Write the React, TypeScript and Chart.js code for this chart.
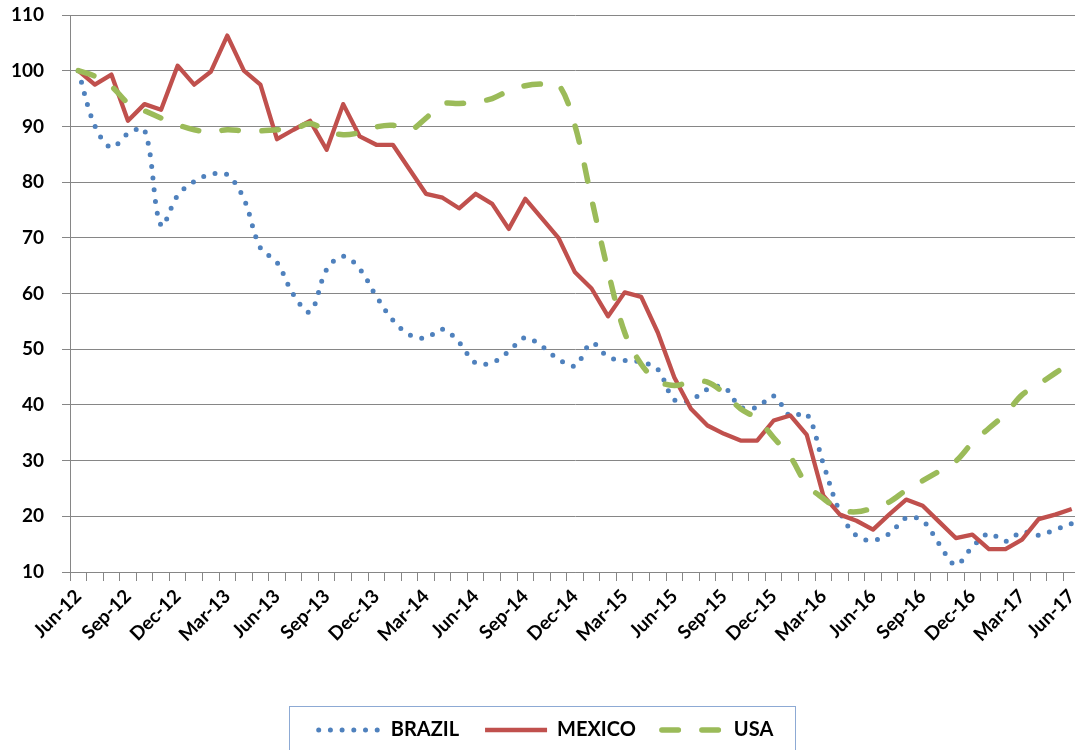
import React, { useEffect, useRef } from "react";
import { Chart, registerables } from "chart.js";

Chart.register(...registerables);

const MONTHS = [
  "Jun-12","Jul-12","Aug-12","Sep-12","Oct-12","Nov-12","Dec-12",
  "Jan-13","Feb-13","Mar-13","Apr-13","May-13","Jun-13","Jul-13","Aug-13","Sep-13","Oct-13","Nov-13","Dec-13",
  "Jan-14","Feb-14","Mar-14","Apr-14","May-14","Jun-14","Jul-14","Aug-14","Sep-14","Oct-14","Nov-14","Dec-14",
  "Jan-15","Feb-15","Mar-15","Apr-15","May-15","Jun-15","Jul-15","Aug-15","Sep-15","Oct-15","Nov-15","Dec-15",
  "Jan-16","Feb-16","Mar-16","Apr-16","May-16","Jun-16","Jul-16","Aug-16","Sep-16","Oct-16","Nov-16","Dec-16",
  "Jan-17","Feb-17","Mar-17","Apr-17","May-17","Jun-17",
];

const BRAZIL = [
  100, 90.1, 86.2, 88.7, 89.4, 72.2, 77.6, 80.1, 81.4, 81.3, 77.0, 68.2, 65.6, 59.8, 56.7, 64.3,
  66.7, 64.4, 59.5, 55.2, 52.6, 52.0, 53.6, 51.2, 47.5, 47.6, 49.6, 52.1, 50.5, 48.2, 47.0, 51.1,
  48.6, 48.0, 47.7, 46.4, 40.9, 40.9, 42.8, 43.2, 39.6, 39.6, 41.6, 38.0, 38.4, 29.4, 20.8, 16.5,
  15.7, 16.9, 19.7, 19.2, 15.0, 11.3, 14.5, 16.9, 15.5, 17.2, 16.6, 17.6, 18.7,
];

const MEXICO = [
  100, 97.5, 99.3, 91.0, 94.0, 93.0, 100.9, 97.5, 99.8, 106.3, 100, 97.5, 87.7, 89.4, 91.0, 85.8,
  94.0, 88.2, 86.7, 86.7, 82.3, 77.9, 77.2, 75.3, 77.9, 76.1, 71.6, 77.0, 73.5, 70.0, 63.8, 60.9,
  55.9, 60.2, 59.4, 53.0, 44.9, 39.3, 36.3, 34.8, 33.6, 33.6, 37.2, 38.1, 34.6, 23.7, 20.3, 19.2,
  17.6, 20.4, 23.0, 21.9, 19.0, 16.1, 16.7, 14.1, 14.1, 15.8, 19.5, 20.3, 21.3,
];

const USA = [
  100, 99.0, 97.2, 94.2, 92.8, 91.5, 90.3, 89.4, 89.0, 89.4, 89.2, 89.2, 89.4, 89.5, 90.5, 89.2,
  88.5, 88.9, 89.9, 90.2, 89.3, 91.5, 94.0, 94.1, 94.4, 95.0, 96.4, 97.3, 97.6, 97.5, 90.1, 77.0,
  64.0, 53.0, 47.3, 44.3, 43.5, 44.1, 44.1, 42.1, 39.3, 37.5, 34.1, 30.7, 25.7, 23.2, 21.2, 20.8,
  21.5, 22.6, 24.7, 26.4, 28.1, 29.9, 33.2, 35.8, 38.4, 41.8, 43.7, 45.7, 47.7,
];

const SERIES_NAMES = ["BRAZIL", "MEXICO", "USA"];
const SERIES_COLORS = ["#4F81BD", "#C0504D", "#9BBB59"];
const Y_MIN = 10;
const Y_MAX = 110;
const Y_STEP = 10;
const LABEL_EVERY = 3;

const FONT = "Lato";
const GRID = "#868686";

const legendShift = {
  id: "legendShift",
  afterLayout(chart: any) {
    const lg = chart.legend;
    if (!lg) return;
    lg.left += 6;
    lg.right += 6;
  },
};

const legendBorder = {
  id: "legendBorder",
  afterDraw(chart: any) {
    const lg = chart.legend;
    if (!lg || !lg.legendHitBoxes || !lg.legendHitBoxes.length) return;
    const hb = lg.legendHitBoxes;
    const l = Math.min(...hb.map((h: any) => h.left)) - 30;
    const r = Math.max(...hb.map((h: any) => h.left + h.width)) + 21;
    const t = hb[0].top - 14;
    const ctx = chart.ctx;
    ctx.save();
    ctx.strokeStyle = "#8DAAD4";
    ctx.lineWidth = 1;
    ctx.setLineDash([]);
    ctx.strokeRect(Math.round(l) + 0.5, Math.round(t) + 0.5, Math.round(r - l), 200);
    ctx.restore();
  },
};

export default function App() {
  const ref = useRef<HTMLCanvasElement | null>(null);

  useEffect(() => {
    if (!ref.current) return;
    const chart = new Chart(ref.current, {
      type: "line",
      data: {
        labels: MONTHS,
        datasets: [
          {
            label: SERIES_NAMES[0],
            data: BRAZIL,
            borderColor: SERIES_COLORS[0],
            backgroundColor: SERIES_COLORS[0],
            borderWidth: 5,
            borderDash: [0, 11.7],
            borderCapStyle: "round",
            tension: 0.35,
            pointRadius: 0,
            order: 3,
          },
          {
            label: SERIES_NAMES[1],
            data: MEXICO,
            borderColor: SERIES_COLORS[1],
            backgroundColor: SERIES_COLORS[1],
            borderWidth: 4.3,
            borderJoinStyle: "round",
            tension: 0,
            pointRadius: 0,
            order: 2,
          },
          {
            label: SERIES_NAMES[2],
            data: USA,
            borderColor: SERIES_COLORS[2],
            backgroundColor: SERIES_COLORS[2],
            borderWidth: 5.5,
            borderDash: [16.5, 23.5],
            borderCapStyle: "round",
            tension: 0.35,
            pointRadius: 0,
            order: 1,
          },
        ],
      },
      options: {
        responsive: false,
        animation: false,
        layout: { padding: { top: 15, left: 0, right: 0, bottom: 0 } },
        plugins: {
          tooltip: { enabled: false },
          legend: {
            position: "bottom",
            labels: {
              usePointStyle: true,
              pointStyle: "line",
              pointStyleWidth: 62,
              padding: 26,
              color: "#000",
              font: { family: FONT, size: 20, weight: "bold" },
              sort: (a: any, b: any) => a.datasetIndex - b.datasetIndex,
              generateLabels: (chart: any) => {
                const items = (Chart as any).defaults.plugins.legend.labels.generateLabels(chart);
                return items.map((it: any) => {
                  const ds = chart.data.datasets[it.datasetIndex];
                  return {
                    ...it,
                    lineDash: ds.borderDash || [],
                    lineCap: ds.borderCapStyle || "butt",
                    lineWidth: ds.borderWidth,
                    strokeStyle: ds.borderColor,
                    fillStyle: ds.borderColor,
                    pointStyle: "line",
                  };
                });
              },
            },
          },
        },
        scales: {
          x: {
            offset: true,
            grid: {
              display: true,
              drawOnChartArea: false,
              drawTicks: true,
              tickLength: 9,
              offset: true,
              color: GRID,
            },
            border: { display: true, color: GRID, width: 1 },
            ticks: {
              autoSkip: false,
              minRotation: 45,
              maxRotation: 45,
              padding: 4,
              color: "#000",
              font: { family: FONT, size: 19, weight: "bold" },
              callback: function (this: any, val: any, index: number) {
                return index % LABEL_EVERY === 0 ? MONTHS[index] : "";
              },
            },
            afterFit: (s: any) => {
              s.height = 122;
              s.paddingLeft = 0;
              s.paddingRight = 0;
            },
          },
          y: {
            min: Y_MIN,
            max: Y_MAX,
            grid: { color: GRID, tickLength: 8, drawTicks: true },
            border: { display: true, color: GRID, width: 1 },
            ticks: {
              stepSize: Y_STEP,
              padding: 18,
              color: "#000",
              font: { family: FONT, size: 19, weight: "bold" },
            },
            afterFit: (s: any) => {
              s.width = 70;
              s.paddingTop = 0;
              s.paddingBottom = 0;
            },
          },
        },
      },
      plugins: [legendShift, legendBorder],
    } as any);
    return () => chart.destroy();
  }, []);

  return (
    <div
      style={{
        position: "fixed",
        left: 0,
        top: 0,
        width: 1075,
        height: 750,
        overflow: "hidden",
        background: "#fff",
      }}
    >
      <canvas ref={ref} width={1080} height={750} style={{ display: "block" }} />
    </div>
  );
}
